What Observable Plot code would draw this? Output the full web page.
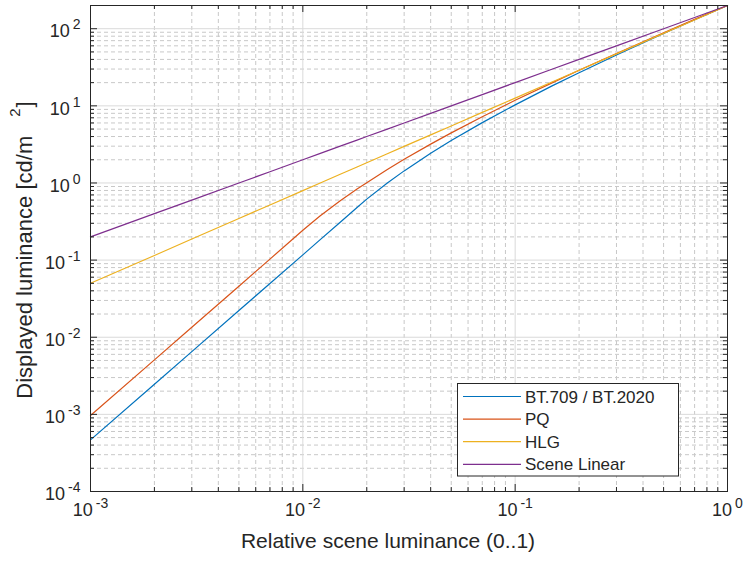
<!DOCTYPE html>
<html>
<head>
<meta charset="utf-8">
<script src="https://cdn.jsdelivr.net/npm/d3@7"></script>
<script src="https://cdn.jsdelivr.net/npm/@observablehq/plot@0.6"></script>
<style>
  html, body { margin: 0; padding: 0; background: #fff; }
  svg { display: block; }
</style>
</head>
<body>
<div id="chart"></div>
<script>
// ---- data ----
const xValues     = [0.001, 0.002, 0.003, 0.005, 0.007, 0.01, 0.012, 0.015, 0.018, 0.02, 0.025, 0.03, 0.04, 0.05, 0.07, 0.1, 0.15, 0.2, 0.3, 0.5, 0.7, 1];
const bt709       = [0.000467, 0.00246, 0.00651, 0.0222, 0.0498, 0.117, 0.1815, 0.310, 0.480, 0.618, 0.999, 1.435, 2.43, 3.55, 6.06, 10.3, 18.3, 26.9, 45.6, 86.6, 130.5, 200];
const pq          = [0.000965, 0.00509, 0.0135, 0.0459, 0.103, 0.244, 0.370, 0.589, 0.835, 1.01, 1.50, 2.03, 3.19, 4.46, 7.22, 11.8, 20.0, 28.9, 47.8, 88.6, 132, 200];
const hlg         = [0.0502, 0.115, 0.188, 0.347, 0.519, 0.796, 0.991, 1.30, 1.61, 1.83, 2.39, 2.98, 4.20, 5.49, 8.22, 12.6, 20.5, 29.0, 47.2, 87.1, 130, 200];
const sceneLinear = [0.2, 0.4, 0.6, 1, 1.4, 2, 2.4, 3, 3.6, 4, 5, 6, 8, 10, 14, 20, 30, 40, 60, 100, 140, 200];

const seriesNames  = ["BT.709 / BT.2020", "PQ", "HLG", "Scene Linear"];
const seriesColors = ["#0072BD", "#D95319", "#EDB120", "#7E2F8E"];

const xMajorTicks = [0.001, 0.01, 0.1, 1];
const xMinorTicks = [0.002, 0.003, 0.004, 0.005, 0.006, 0.007, 0.008, 0.009,
                     0.02, 0.03, 0.04, 0.05, 0.06, 0.07, 0.08, 0.09,
                     0.2, 0.3, 0.4, 0.5, 0.6, 0.7, 0.8, 0.9];
const yMajorTicks = [1e-4, 1e-3, 1e-2, 1e-1, 1, 10, 100];
const yMinorTicks = [2e-4, 3e-4, 4e-4, 5e-4, 6e-4, 7e-4, 8e-4, 9e-4,
                     2e-3, 3e-3, 4e-3, 5e-3, 6e-3, 7e-3, 8e-3, 9e-3,
                     0.02, 0.03, 0.04, 0.05, 0.06, 0.07, 0.08, 0.09,
                     0.2, 0.3, 0.4, 0.5, 0.6, 0.7, 0.8, 0.9,
                     2, 3, 4, 5, 6, 7, 8, 9,
                     20, 30, 40, 50, 60, 70, 80, 90];

const xTitle = "Relative scene luminance (0..1)";
const yTitleMain = "Displayed luminance [cd/m";
const yTitleSup = "2";
const yTitleEnd = "]";

// ---- build table ----
const seriesValues = [bt709, pq, hlg, sceneLinear];
const rows = [];
seriesValues.forEach((arr, i) => arr.forEach((v, j) => rows.push({x: xValues[j], y: v, s: seriesNames[i]})));

// ---- layout ----
const W = 745, H = 564, mL = 90, mR = 18, mT = 5, mB = 73;
const pw = W - mL - mR, ph = H - mT - mB;
const ink = "#262626";
const font = "'Liberation Sans', Arial, Helvetica, sans-serif";
const expLabel = d => "10^" + Math.round(Math.log10(d));

const plot = Plot.plot({
  width: W, height: H,
  marginLeft: mL, marginRight: mR, marginTop: mT, marginBottom: mB,
  style: {fontFamily: font, background: "#fff", color: ink},
  x: {type: "log", domain: [1e-3, 1], axis: null},
  y: {type: "log", domain: [1e-4, 200], axis: null},
  color: {domain: seriesNames, range: seriesColors},
  marks: [
    // grid
    Plot.ruleX(xMinorTicks, {stroke: "#c8c8c8", strokeDasharray: "4,3"}),
    Plot.ruleY(yMinorTicks, {stroke: "#c8c8c8", strokeDasharray: "4,3"}),
    Plot.ruleX(xMajorTicks.slice(1, -1), {stroke: "#dadada"}),
    Plot.ruleY(yMajorTicks.slice(1), {stroke: "#dadada"}),
    // curves
    Plot.line(rows, {x: "x", y: "y", z: "s", stroke: "s", strokeWidth: 1.2}),
    // inward ticks on all four sides
    Plot.ruleX(xMajorTicks, {stroke: ink, insetTop: ph - 7}),
    Plot.ruleX(xMajorTicks, {stroke: ink, insetBottom: ph - 7}),
    Plot.ruleX(xMinorTicks, {stroke: ink, insetTop: ph - 4}),
    Plot.ruleX(xMinorTicks, {stroke: ink, insetBottom: ph - 4}),
    Plot.ruleY(yMajorTicks, {stroke: ink, insetRight: pw - 7}),
    Plot.ruleY(yMajorTicks, {stroke: ink, insetLeft: pw - 7}),
    Plot.ruleY(yMinorTicks, {stroke: ink, insetRight: pw - 4}),
    Plot.ruleY(yMinorTicks, {stroke: ink, insetLeft: pw - 4}),
    Plot.frame({stroke: ink}),
    // tick labels
    Plot.text(xMajorTicks, {x: d => d, frameAnchor: "bottom", dy: 24, text: expLabel, fontSize: 18, fill: ink}),
    Plot.text(yMajorTicks, {y: d => d, frameAnchor: "left", textAnchor: "end", dx: -10, dy: 3, text: expLabel, fontSize: 18, fill: ink})
  ]
});

const svg = d3.select(plot);

// superscript exponents in tick labels
svg.selectAll("text").each(function() {
  const m = /^10\^(-?\d+)$/.exec(this.textContent);
  if (!m) return;
  const t = d3.select(this);
  t.text(null);
  t.append("tspan").text("10");
  t.append("tspan").attr("dx", 3).attr("dy", -8).attr("font-size", 14).text(m[1]);
});

// axis titles
svg.append("text")
  .attr("x", 388).attr("y", 548)
  .attr("text-anchor", "middle")
  .attr("font-family", font).attr("font-size", 21).attr("fill", ink)
  .text(xTitle);

const yt = svg.append("text")
  .attr("transform", "translate(31.5,250) rotate(-90)")
  .attr("text-anchor", "middle")
  .attr("font-family", font).attr("font-size", 22).attr("fill", ink);
yt.append("tspan").text(yTitleMain);
yt.append("tspan").attr("dx", 19).attr("dy", -12).attr("font-size", 15).text(yTitleSup);
yt.append("tspan").attr("dx", 1).attr("dy", 12).text(yTitleEnd);

// legend
const lg = svg.append("g").attr("font-family", font).attr("font-size", 17).attr("fill", ink)
  .attr("text-anchor", "start");
lg.append("rect").attr("x", 457.5).attr("y", 383.5).attr("width", 221).attr("height", 92.5)
  .attr("fill", "#fff").attr("stroke", ink);
seriesNames.forEach((name, i) => {
  const y = 396.5 + i * 22.6;
  lg.append("line").attr("x1", 463).attr("x2", 521).attr("y1", y).attr("y2", y)
    .attr("stroke", seriesColors[i]).attr("stroke-width", 1.2);
  lg.append("text").attr("x", 525).attr("y", y + 6).attr("text-anchor", "start").text(name);
});

document.getElementById("chart").appendChild(plot);
</script>
</body>
</html>
